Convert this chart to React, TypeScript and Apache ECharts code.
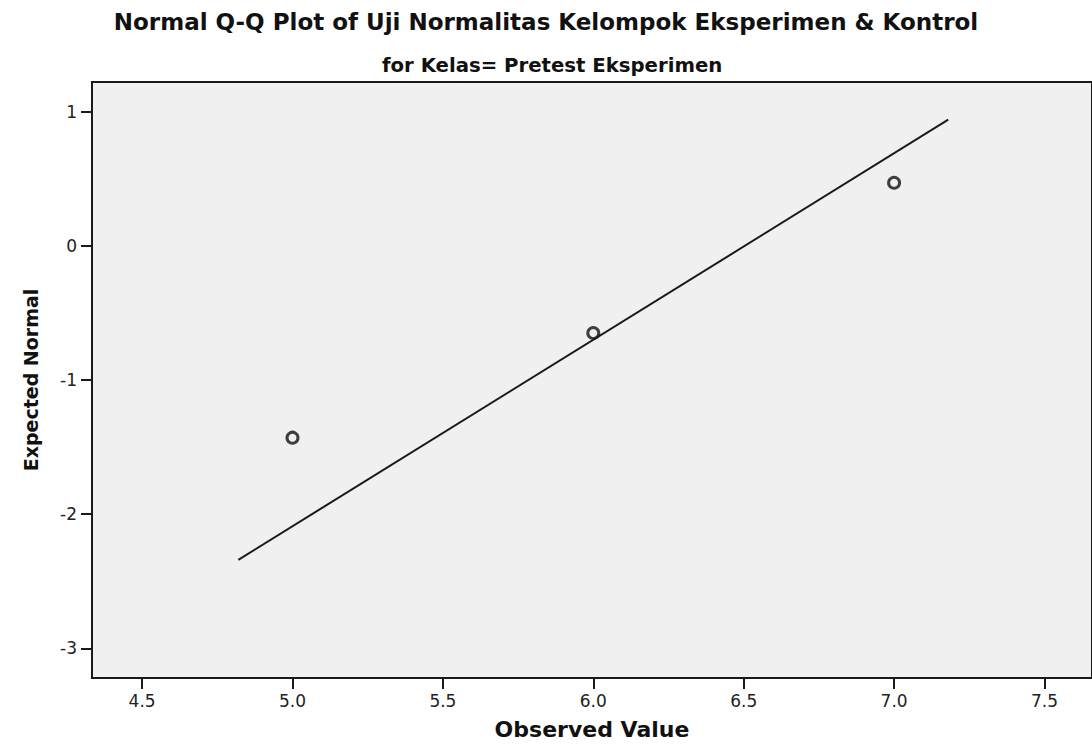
import React, { useEffect, useRef } from "react";
import * as echarts from "echarts";

const titleText = "Normal Q-Q Plot of Uji Normalitas Kelompok Eksperimen & Kontrol";
const subtitleText = "for Kelas= Pretest Eksperimen";
const xAxisName = "Observed Value";
const yAxisName = "Expected Normal";

const observed = [5, 6, 7];
const expectedNormal = [-1.43, -0.65, 0.47];
const fitLineX = [4.82, 7.18];
const fitLineY = [-2.34, 0.94];

const xTicks = [4.5, 5.0, 5.5, 6.0, 6.5, 7.0, 7.5];
const yTicks = [-3, -2, -1, 0, 1];

const FONT = "DejaVu Sans";

export default function App() {
  const ref = useRef<HTMLDivElement>(null);
  useEffect(() => {
    if (!ref.current) return;
    const chart = echarts.init(ref.current, null, { renderer: "svg" });
    const gridLeft = 92;
    const gridRight = -4;
    const pxPerUnit = 302;
    const xMin = 4.5 - 50.3 / pxPerUnit;
    const xMax = xMin + (1092 - gridLeft - gridRight) / pxPerUnit;
    chart.setOption({
      animation: false,
      backgroundColor: "#ffffff",
      title: [
        {
          text: titleText,
          left: "center",
          top: 5,
          textStyle: { fontFamily: FONT, fontWeight: "bold", fontSize: 23, color: "#111" },
        },
        {
          text: subtitleText,
          left: 377,
          top: 50,
          textStyle: { fontFamily: FONT, fontWeight: "bold", fontSize: 19.7, color: "#111" },
        },
      ],
      grid: {
        left: gridLeft,
        right: gridRight,
        top: 82,
        bottom: 753 - 678,
        show: true,
        backgroundColor: "#f0f0f0",
        borderColor: "#1a1a1a",
        borderWidth: 2,
      },
      xAxis: {
        type: "value",
        position: "bottom",
        min: xMin,
        max: xMax,
        name: xAxisName,
        nameLocation: "middle",
        nameGap: 40,
        nameTextStyle: { fontFamily: FONT, fontWeight: "bold", fontSize: 22, color: "#111" },
        axisLine: { show: true, onZero: false, lineStyle: { color: "#1a1a1a", width: 2 } },
        axisTick: {
          show: true,
          inside: false,
          length: 11,
          customValues: xTicks,
          lineStyle: { color: "#1a1a1a", width: 2 },
        },
        axisLabel: {
          customValues: xTicks,
          margin: 14,
          fontFamily: FONT,
          fontSize: 17,
          color: "#222",
          formatter: (v: number) => v.toFixed(1),
        },
        splitLine: { show: false },
      },
      yAxis: {
        type: "value",
        min: -3.221,
        max: 1.221,
        name: yAxisName,
        nameLocation: "middle",
        nameRotate: 90,
        nameGap: 52,
        nameTextStyle: { fontFamily: FONT, fontWeight: "bold", fontSize: 19, color: "#111" },
        axisLine: { show: true, onZero: false, lineStyle: { color: "#1a1a1a", width: 2 } },
        axisTick: {
          show: true,
          inside: false,
          length: 11,
          customValues: yTicks,
          lineStyle: { color: "#1a1a1a", width: 2 },
        },
        axisLabel: {
          customValues: yTicks,
          margin: 15,
          fontFamily: FONT,
          fontSize: 17,
          color: "#222",
          formatter: (v: number) => String(v),
        },
        splitLine: { show: false },
      },
      series: [
        {
          type: "line",
          data: fitLineX.map((x, i) => [x, fitLineY[i]]),
          showSymbol: false,
          symbol: "none",
          lineStyle: { color: "#1a1a1a", width: 2 },
          silent: true,
        },
        {
          type: "scatter",
          data: observed.map((x, i) => [x, expectedNormal[i]]),
          symbol: "circle",
          symbolSize: 11,
          itemStyle: { color: "#f0f0f0", borderColor: "#111", borderWidth: 3 },
        },
      ],
    });
    return () => chart.dispose();
  }, []);
  return (
    <div
      ref={ref}
      style={{ position: "absolute", left: 0, top: 0, width: 1092, height: 753 }}
    />
  );
}
